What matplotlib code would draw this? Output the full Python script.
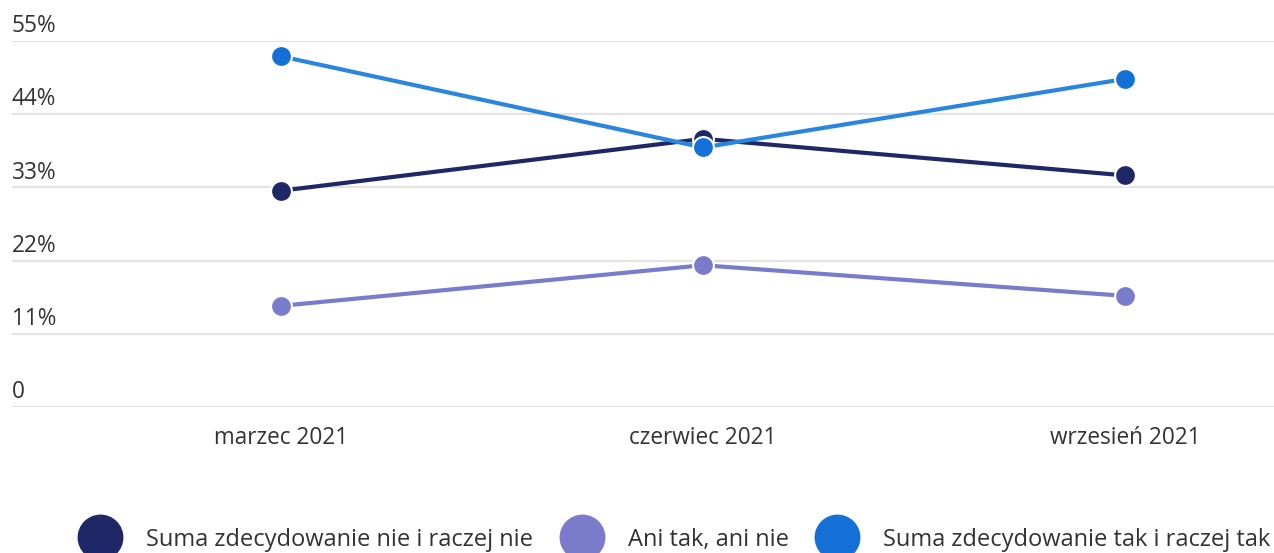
import matplotlib.pyplot as plt
from matplotlib.lines import Line2D

plt.rcParams['font.family'] = ['Open Sans', 'DejaVu Sans']

months = ['marzec 2021', 'czerwiec 2021', 'wrzesień 2021']
nie = [32.5, 40.3, 34.8]     # Suma zdecydowanie nie i raczej nie
ani = [15.2, 21.3, 16.7]     # Ani tak, ani nie
tak = [52.7, 39.0, 49.3]     # Suma zdecydowanie tak i raczej tak
yticks = [0, 11, 22, 33, 44, 55]
ylabels = ['0', '11%', '22%', '33%', '44%', '55%']
names = ['Suma zdecydowanie nie i raczej nie', 'Ani tak, ani nie', 'Suma zdecydowanie tak i raczej tak']

c_nie = '#1f2766'
c_ani = '#7a7ccb'
c_tak_line = '#2a86dc'
c_tak = '#1470d6'

fig = plt.figure(figsize=(12.74, 5.53), dpi=100)
ax = fig.add_axes([12 / 1274, (553 - 407) / 553, 1 - 12 / 1274, 366 / 553])

x = range(len(months))
ax.plot(x, nie, color=c_nie, lw=3, zorder=3)
ax.plot(x, nie, 'o', color=c_nie, ms=15, mec='white', mew=1.5, zorder=4, clip_on=False)
ax.plot(x, ani, color=c_ani, lw=3, zorder=3)
ax.plot(x, ani, 'o', color=c_ani, ms=15, mec='white', mew=1.5, zorder=4, clip_on=False)
ax.plot(x, tak, color=c_tak_line, lw=3, zorder=5)
ax.plot(x, tak, 'o', color=c_tak, ms=15, mec='white', mew=1.5, zorder=6, clip_on=False)

ax.set_xlim(-0.637, 2.353)
ax.set_ylim(0, 55)
ax.set_yticks(yticks)
ax.set_yticklabels([])
ax.grid(axis='y', color='#e3e3e3', lw=1.5)
ax.set_axisbelow(True)
for s in ax.spines.values():
    s.set_visible(False)
ax.tick_params(length=0)
ax.set_xticks(list(x))
ax.set_xticklabels(months, fontsize=16.3, color='#333333')
ax.tick_params(axis='x', pad=14)

for v, lab in zip(yticks, ylabels):
    ax.annotate(lab, xy=(0, v), xycoords=('axes fraction', 'data'),
                xytext=(0, 2), textcoords='offset points',
                ha='left', va='bottom', fontsize=16.3, color='#333333')

handles = [Line2D([], [], ls='none', marker='o', ms=32, color=c) for c in [c_nie, c_ani, c_tak]]
fig.legend(handles, names, loc='center', bbox_to_anchor=(0.529, 0.024), ncol=3, frameon=False,
           fontsize=17, handletextpad=1.0, columnspacing=1.1, labelcolor='#333333',
           handlelength=1.9)

fig.savefig('out.png', dpi=100, facecolor='white')
